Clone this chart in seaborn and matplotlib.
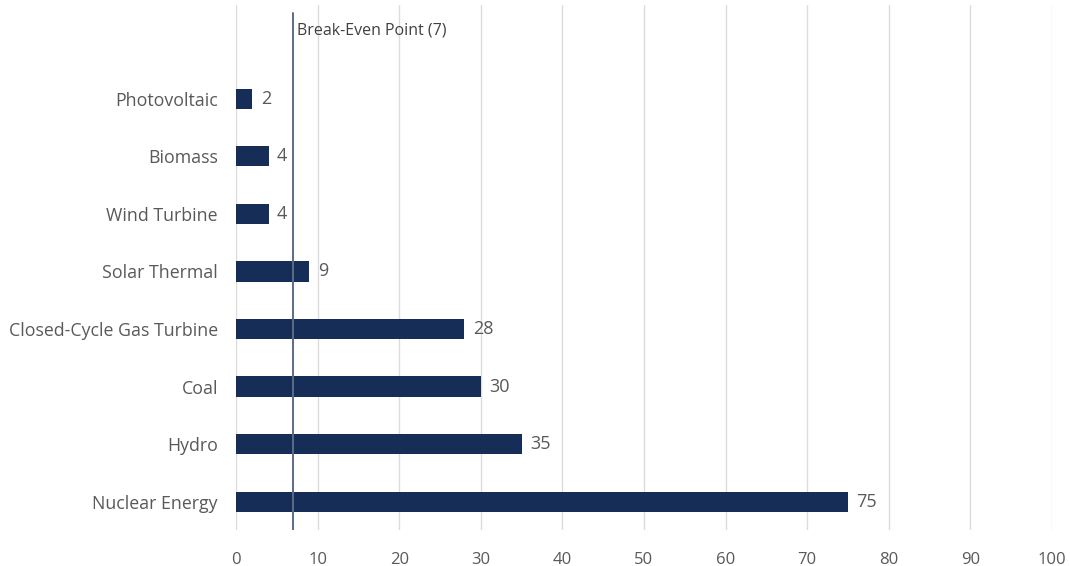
import matplotlib
matplotlib.use("Agg")
import matplotlib.pyplot as plt
import seaborn as sns
import pandas as pd

categories = ["Photovoltaic", "Biomass", "Wind Turbine", "Solar Thermal",
              "Closed-Cycle Gas Turbine", "Coal", "Hydro", "Nuclear Energy"]
values = [2, 4, 4, 9, 28, 30, 35, 75]
break_even = 7
x_ticks = [0, 10, 20, 30, 40, 50, 60, 70, 80, 90, 100]

sns.set_theme(style="white")
plt.rcParams['font.family'] = ['Open Sans', 'DejaVu Sans']

df = pd.DataFrame({"category": categories, "value": values})

fig = plt.figure(figsize=(10.7, 5.66), dpi=100)
ax = fig.add_axes([0.2206, 0.064, 0.7624, 0.927])

bar_color = "#152d57"
sns.barplot(data=df, x="value", y="category", orient="h", color=bar_color,
            width=0.35, ax=ax, saturation=1, zorder=3, linewidth=0)

ax.set_xlim(0, 100)
ax.set_ylim(7.49, -1.63)
ax.set_xticks(x_ticks)
ax.xaxis.grid(True, color="#dcdcdc", linewidth=1, zorder=0)
ax.yaxis.grid(False)
for s in ax.spines.values():
    s.set_visible(False)
ax.tick_params(axis="x", length=0, pad=16, labelsize=12, labelcolor="#595959")
ax.tick_params(axis="y", length=0, pad=13, labelsize=12.75, labelcolor="#595959")
ax.set_xlabel("")
ax.set_ylabel("")

for c in ax.containers:
    ax.bar_label(c, labels=[str(v) for v in values], padding=6,
                 fontsize=13, color="#595959")

ax.axvline(break_even, ymin=0, ymax=0.985, color="#5b6b86", linewidth=1.4, zorder=4)
ax.text(break_even + 0.45, -1.18, f"Break-Even Point ({break_even})",
        fontsize=11.5, color="#404040", va="center", ha="left")

fig.savefig("out.png", dpi=100)
